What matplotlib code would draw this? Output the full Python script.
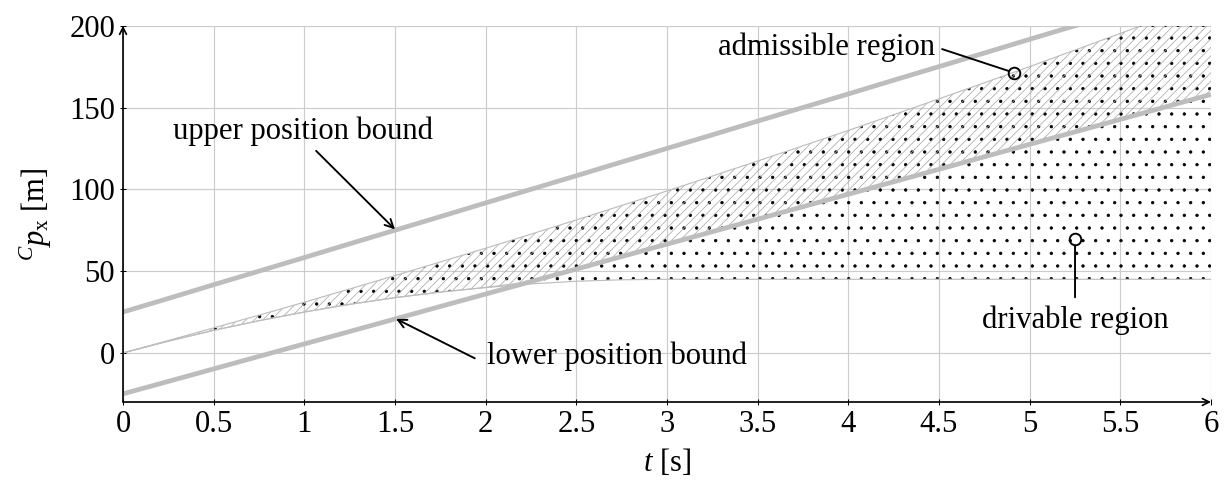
import numpy as np
import matplotlib.pyplot as plt

plt.rcParams['font.family'] = ['Liberation Serif', 'DejaVu Serif']
plt.rcParams['mathtext.fontset'] = 'custom'
plt.rcParams['mathtext.rm'] = 'Liberation Serif'
plt.rcParams['mathtext.it'] = 'Liberation Serif:italic'
plt.rcParams['hatch.linewidth'] = 0.7

# time samples [s]
t = np.array([0, 0.25, 0.5, 0.75, 1, 1.25, 1.5, 1.75, 2, 2.25, 2.5, 2.75, 3,
              3.25, 3.5, 3.75, 4, 4.25, 4.5, 4.75, 5, 5.25, 5.5, 5.75, 6])

# position bounds [m]
upper_bound = np.array([25, 33.3, 41.7, 50, 58.3, 66.7, 75, 83.3, 91.7, 100, 108.3, 116.7, 125,
                        133.3, 141.7, 150, 158.3, 166.7, 175, 183.3, 191.7, 200, 208.3, 216.7, 225])
lower_bound = np.array([-25, -17.4, -9.75, -2.1, 5.5, 13.1, 20.75, 28.4, 36, 43.6, 51.25, 58.9, 66.5,
                        74.1, 81.75, 89.4, 97, 104.6, 112.25, 119.9, 127.5, 135.1, 142.75, 150.4, 158])

# reachable set edges [m]
accel_edge = np.array([0, 7.6, 15.3, 23.1, 31, 39.1, 47.3, 55.6, 64, 72.6, 81.3, 90.1, 99,
                       108.1, 117.3, 126.6, 136, 145.6, 155.3, 165.1, 175, 185.1, 195.3, 205.6, 216])
brake_edge = np.array([0, 7.2, 13.8, 19.7, 25, 29.7, 33.8, 37.2, 40, 42.2, 43.8, 44.7, 45,
                       45, 45, 45, 45, 45, 45, 45, 45, 45, 45, 45, 45])

x_ticks = [0, 0.5, 1, 1.5, 2, 2.5, 3, 3.5, 4, 4.5, 5, 5.5, 6]
x_ticklabels = ['0', '0.5', '1', '1.5', '2', '2.5', '3', '3.5', '4', '4.5', '5', '5.5', '6']
y_ticks = [0, 50, 100, 150, 200]

grey = '#bdbdbd'
fs = 29

fig = plt.figure(figsize=(1224 / 76, 484 / 76), dpi=76)
ax = fig.add_axes([0.1005, 0.1694, 0.8889, 0.7775])

# drivable region (dots)
ax.fill_between(t, brake_edge, accel_edge, facecolor='none', edgecolor='black',
                hatch='.', linewidth=0, zorder=2)
# admissible region (hatched)
adm_lo = np.maximum(brake_edge, lower_bound)
adm_hi = np.minimum(accel_edge, upper_bound)
ax.fill_between(t, adm_lo, adm_hi, facecolor='none', edgecolor='#a8a8a8',
                hatch='///', linewidth=0, zorder=2)
ax.plot(t, adm_lo, color=grey, lw=1.1, zorder=2)
ax.plot(t, brake_edge, color=grey, lw=1.1, zorder=2)
ax.plot(t, accel_edge, color=grey, lw=1.1, zorder=2)

ax.plot(t, upper_bound, color=grey, lw=4.5, zorder=3, solid_capstyle='butt')
ax.plot(t, lower_bound, color=grey, lw=4.5, zorder=3, solid_capstyle='butt')

ax.set_xlim(0, 6)
ax.set_ylim(-30, 200)
ax.set_xticks(x_ticks)
ax.set_xticklabels(x_ticklabels)
ax.set_yticks(y_ticks)
ax.grid(True, color='#cccccc', lw=1.1, zorder=0)
ax.tick_params(direction='inout', length=5, width=1, labelsize=fs, pad=5)
for s in ['top', 'right', 'left', 'bottom']:
    ax.spines[s].set_visible(False)

# axis lines with arrows
ax.annotate('', xy=(0, 1), xytext=(0, 0), xycoords='axes fraction',
            arrowprops=dict(arrowstyle='->', lw=1.6, color='black', shrinkA=0, shrinkB=0,
                            mutation_scale=16))
ax.annotate('', xy=(1, 0), xytext=(0, 0), xycoords='axes fraction',
            arrowprops=dict(arrowstyle='->', lw=1.6, color='black', shrinkA=0, shrinkB=0,
                            mutation_scale=16))

ax.set_xlabel('$t$ [s]', fontsize=fs, labelpad=8)
ax.set_ylabel(r'${}^{C}p_{\mathrm{x}}$ [m]', fontsize=fs, labelpad=14)

# annotations
arrow = dict(arrowstyle='->', lw=1.8, color='black', shrinkA=0, shrinkB=0, mutation_scale=20)
ax.text(0.99, 135.5, 'upper position bound', fontsize=fs, ha='center', va='center')
ax.annotate('', xy=(1.5, 75.5), xytext=(1.065, 123.5), arrowprops=arrow)

ax.text(2.01, -2.3, 'lower position bound', fontsize=fs, ha='left', va='center')
ax.annotate('', xy=(1.506, 20.8), xytext=(1.94, -3.3), arrowprops=arrow)

ax.text(4.48, 187, 'admissible region', fontsize=fs, ha='right', va='center')
ax.annotate('', xy=(4.915, 171.2), xytext=(4.517, 185.7),
            arrowprops=dict(arrowstyle='-', lw=1.8, color='black', shrinkA=0, shrinkB=5.5))
ax.plot([4.915], [171.2], 'o', mfc='none', mec='black', mew=1.8, ms=11, zorder=6)

ax.text(5.25, 19.8, 'drivable region', fontsize=fs, ha='center', va='center')
ax.annotate('', xy=(5.25, 69.4), xytext=(5.25, 34),
            arrowprops=dict(arrowstyle='-', lw=1.8, color='black', shrinkA=0, shrinkB=5.5))
ax.plot([5.25], [69.4], 'o', mfc='none', mec='black', mew=1.8, ms=11, zorder=6)

fig.savefig('out.png', dpi=76)
